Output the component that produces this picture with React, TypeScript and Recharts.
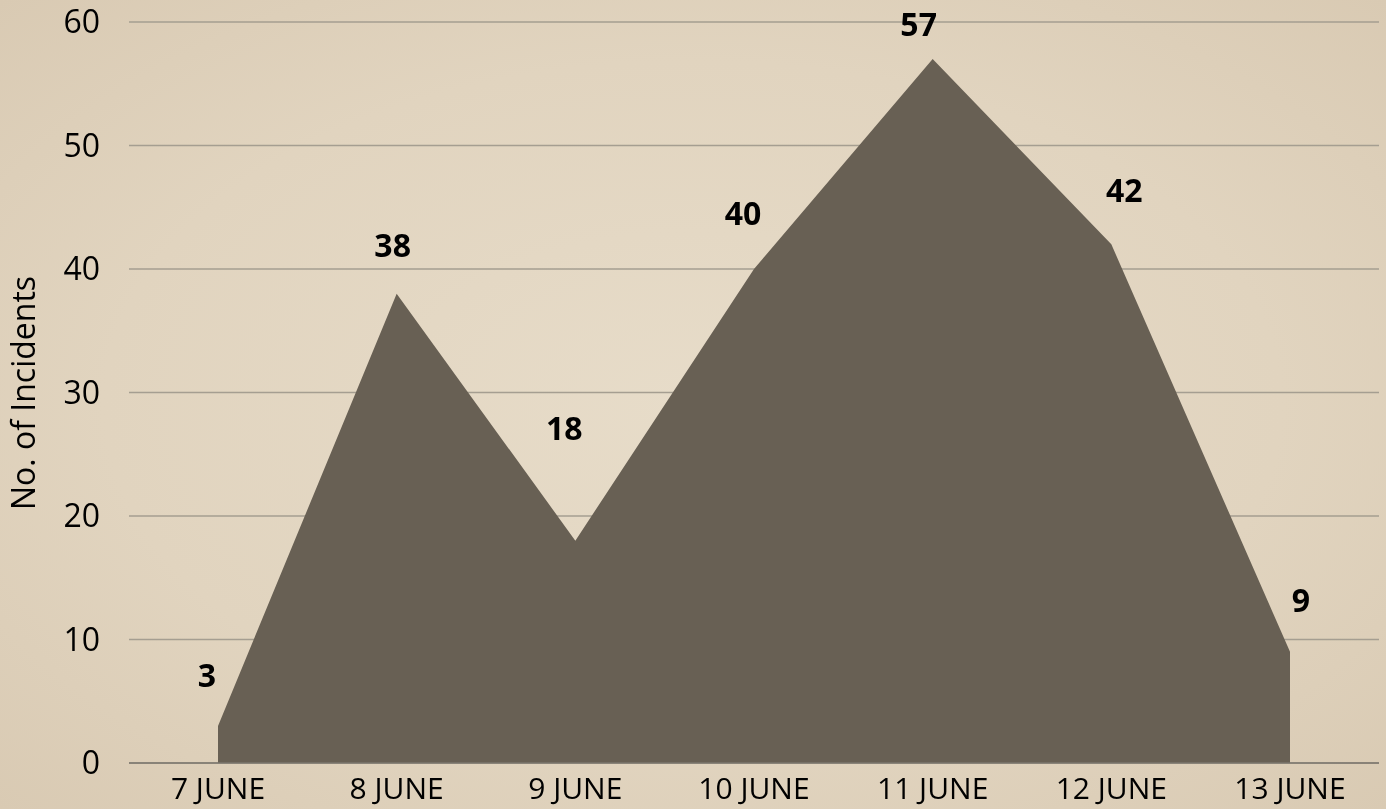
import React from 'react';
import { AreaChart, Area, XAxis, YAxis, CartesianGrid, LabelList } from 'recharts';

const days = ['7 JUNE', '8 JUNE', '9 JUNE', '10 JUNE', '11 JUNE', '12 JUNE', '13 JUNE'];
const incidents = [3, 38, 18, 40, 57, 42, 9];
const yTicks = [0, 10, 20, 30, 40, 50, 60];

// label nudges (px) to mimic the source's label placement
const labelDx = [-11, -4, -11, -11, -14, 13, 11];
const labelDy = [51, 49, 113, 57, 36, 55, 52];

const FONT = '"Open Sans", "Liberation Sans", sans-serif';

const data = days.map((day, i) => ({ day, incidents: incidents[i] }));

const ValueLabel = (props: any) => {
  const { x, y, value, index } = props;
  return (
    <text
      x={x + labelDx[index]}
      y={y - labelDy[index]}
      textAnchor="middle"
      dominantBaseline="central"
      fontFamily={FONT}
      fontWeight={700}
      fontSize={32}
      fill="#000"
    >
      {value}
    </text>
  );
};

const YTitle = () => (
  <text
    x={22}
    y={393}
    transform="rotate(-90, 22, 393)"
    textAnchor="middle"
    dominantBaseline="central"
    fontFamily={FONT}
    fontSize={32}
    fill="#000"
  >
    No. of Incidents
  </text>
);

export default function App() {
  return (
    <div
      style={{
        position: 'fixed',
        top: 0,
        left: 0,
        width: 1386,
        height: 809,
        background: 'radial-gradient(ellipse at center, #e7dcc9 0%, #e1d4bf 60%, #d9cab3 100%)',
      }}
    >
      <AreaChart
        width={1386}
        height={809}
        data={data}
        margin={{ top: 22, right: 7, bottom: 0, left: 0 }}
      >
        <CartesianGrid vertical={false} stroke="#a59e91" strokeWidth={1.5} />
        <XAxis
          dataKey="day"
          height={46}
          padding={{ left: 89, right: 89 }}
          axisLine={{ stroke: '#7b766c', strokeWidth: 1.5 }}
          tickLine={false}
          tickMargin={9}
          tick={{ fill: '#000', fontSize: 30, fontFamily: FONT }}
          interval={0}
        />
        <YAxis
          width={129}
          domain={[0, 60]}
          ticks={yTicks}
          axisLine={false}
          tickLine={false}
          tickMargin={23}
          tick={{ fill: '#000', fontSize: 32, fontFamily: FONT }}
          label={<YTitle />}
        />
        <Area
          type="linear"
          dataKey="incidents"
          stroke="none"
          fill="#686054"
          fillOpacity={1}
          isAnimationActive={false}
          activeDot={false}
        >
          <LabelList dataKey="incidents" content={<ValueLabel />} />
        </Area>
      </AreaChart>
    </div>
  );
}
